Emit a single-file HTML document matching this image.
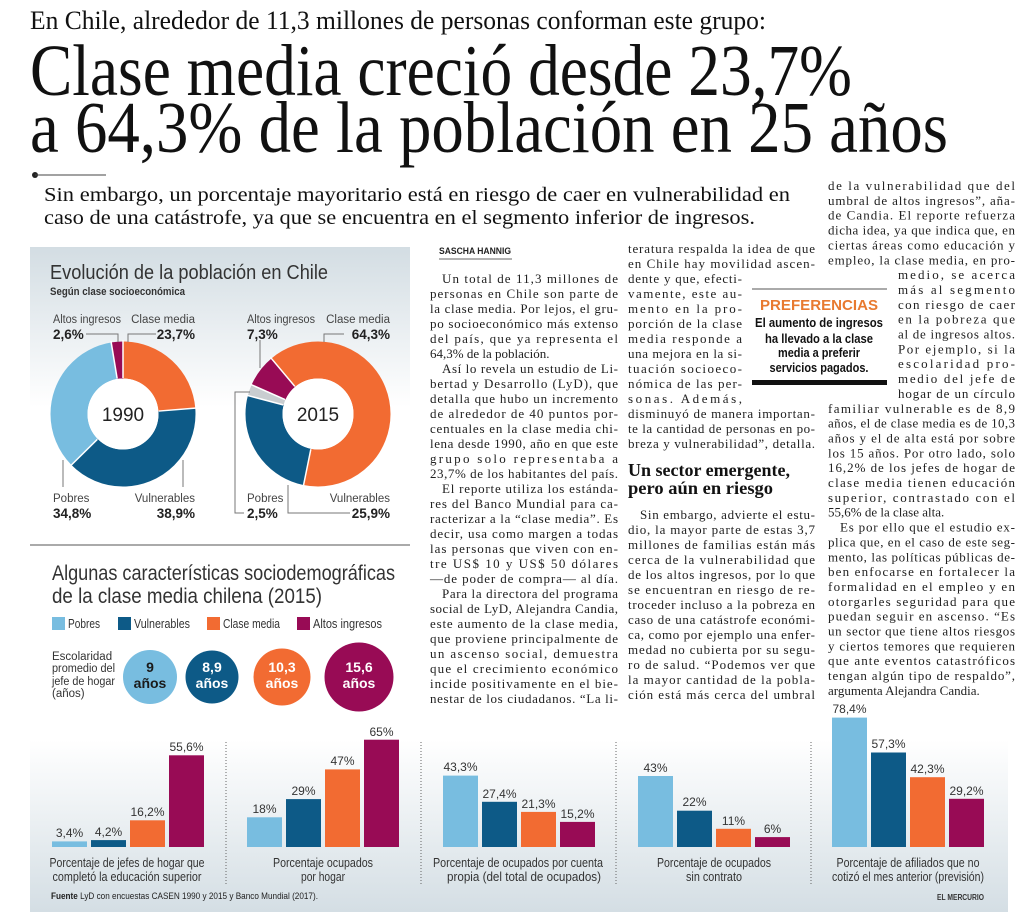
<!DOCTYPE html>
<html><head><meta charset="utf-8"><style>
body{margin:0;background:#fff}
svg{display:block}
.b{font-family:"Liberation Serif",serif;font-size:13px;fill:#1e1e1e}
.s{font-family:"Liberation Sans",sans-serif}
</style></head><body>
<svg width="1024" height="918" viewBox="0 0 1024 918" xmlns="http://www.w3.org/2000/svg">
<defs>
<linearGradient id="g1" x1="0" y1="0" x2="0" y2="1"><stop offset="0" stop-color="#d3dde3"/><stop offset="1" stop-color="#ffffff"/></linearGradient>
<linearGradient id="g2" x1="0" y1="0" x2="0" y2="1"><stop offset="0" stop-color="#ffffff"/><stop offset="1" stop-color="#d4dee4"/></linearGradient>
</defs>
<rect width="1024" height="918" fill="#fff"/>
<!-- Header -->
<g font-family="Liberation Serif, serif" fill="#111">
<text x="30" y="29" font-size="26" textLength="736" lengthAdjust="spacingAndGlyphs">En Chile, alrededor de 11,3 millones de personas conforman este grupo:</text>
<text x="30" y="95" font-size="73" textLength="822" lengthAdjust="spacingAndGlyphs">Clase media creció desde 23,7%</text>
<text x="30" y="152" font-size="73" textLength="918" lengthAdjust="spacingAndGlyphs">a 64,3% de la población en 25 años</text>
<text x="44" y="201" font-size="20" textLength="746" lengthAdjust="spacingAndGlyphs">Sin embargo, un porcentaje mayoritario está en riesgo de caer en vulnerabilidad en</text>
<text x="44" y="224" font-size="20" textLength="711" lengthAdjust="spacingAndGlyphs">caso de una catástrofe, ya que se encuentra en el segmento inferior de ingresos.</text>
</g>
<circle cx="35" cy="175" r="3" fill="#222"/>
<line x1="35" y1="175" x2="106" y2="175" stroke="#444" stroke-width="1"/>

<!-- Left infographic panel -->
<rect x="30" y="247" width="380" height="160" fill="url(#g1)"/>
<text class="s" x="50" y="279" font-size="20" fill="#333" textLength="278" lengthAdjust="spacingAndGlyphs">Evolución de la población en Chile</text>
<text class="s" x="50" y="295" font-size="11" font-weight="bold" fill="#333" textLength="135" lengthAdjust="spacingAndGlyphs">Según clase socioeconómica</text>

<!-- Donut 1990 -->
<g fill="none" stroke-width="37">
<circle cx="123" cy="414" r="54" stroke="#f26b32" stroke-dasharray="80.41 258.88" stroke-dashoffset="0" transform="rotate(-90 123 414)"/>
<circle cx="123" cy="414" r="54" stroke="#0d5a87" stroke-dasharray="131.98 207.31" stroke-dashoffset="-80.41" transform="rotate(-90 123 414)"/>
<circle cx="123" cy="414" r="54" stroke="#78bde0" stroke-dasharray="118.07 221.22" stroke-dashoffset="-212.39" transform="rotate(-90 123 414)"/>
<circle cx="123" cy="414" r="54" stroke="#980b55" stroke-dasharray="8.82 330.47" stroke-dashoffset="-330.46" transform="rotate(-90 123 414)"/>
</g>
<circle cx="123" cy="414" r="35.5" fill="#fff"/>
<g stroke="#fff" stroke-width="1.5">
<line x1="123" y1="378" x2="123" y2="340" transform="rotate(0 123 414)"/>
<line x1="123" y1="378" x2="123" y2="340" transform="rotate(85.32 123 414)"/>
<line x1="123" y1="378" x2="123" y2="340" transform="rotate(225.36 123 414)"/>
<line x1="123" y1="378" x2="123" y2="340" transform="rotate(350.64 123 414)"/>
</g>
<text class="s" x="123" y="421" font-size="19" fill="#222" text-anchor="middle">1990</text>

<!-- Donut 2015 -->
<g fill="none" stroke-width="37">
<circle cx="318" cy="414" r="54" stroke="#f26b32" stroke-dasharray="218.16 121.13" stroke-dashoffset="-301.59" transform="rotate(-90 318 414)"/>
<circle cx="318" cy="414" r="54" stroke="#0d5a87" stroke-dasharray="87.88 251.41" stroke-dashoffset="-180.47" transform="rotate(-90 318 414)"/>
<circle cx="318" cy="414" r="54" stroke="#c9cdd0" stroke-dasharray="8.48 330.81" stroke-dashoffset="-268.34" transform="rotate(-90 318 414)"/>
<circle cx="318" cy="414" r="54" stroke="#980b55" stroke-dasharray="24.77 314.52" stroke-dashoffset="-276.82" transform="rotate(-90 318 414)"/>
</g>
<circle cx="318" cy="414" r="35.5" fill="#fff"/>
<g stroke="#fff" stroke-width="1.5">
<line x1="318" y1="378" x2="318" y2="340" transform="rotate(320 318 414)"/>
<line x1="318" y1="378" x2="318" y2="340" transform="rotate(191.48 318 414)"/>
<line x1="318" y1="378" x2="318" y2="340" transform="rotate(284.72 318 414)"/>
<line x1="318" y1="378" x2="318" y2="340" transform="rotate(293.72 318 414)"/>
</g>
<text class="s" x="318" y="421" font-size="19" fill="#222" text-anchor="middle">2015</text>

<!-- leader lines -->
<g fill="none" stroke="#777" stroke-width="1">
<path d="M86,334 H118 V342"/>
<path d="M128,342 V334 H156"/>
<path d="M63,460 V487"/>
<path d="M183,460 V487"/>
<path d="M260,340 V368"/>
<path d="M324,342 V334 H344"/>
<path d="M250,392 H235 V513 H244"/>
<path d="M288,485 V513 H350"/>
</g>
<g class="s">
<text x="53" y="323" font-size="11.5" fill="#444" textLength="68" lengthAdjust="spacingAndGlyphs">Altos ingresos</text>
<text x="53" y="339" font-size="13.5" font-weight="bold" fill="#222">2,6%</text>
<text x="195" y="323" font-size="11.5" fill="#444" text-anchor="end">Clase media</text>
<text x="195" y="339" font-size="13.5" font-weight="bold" fill="#222" text-anchor="end">23,7%</text>
<text x="53" y="502" font-size="11.5" fill="#444">Pobres</text>
<text x="53" y="518" font-size="13.5" font-weight="bold" fill="#222">34,8%</text>
<text x="195" y="502" font-size="11.5" fill="#444" text-anchor="end">Vulnerables</text>
<text x="195" y="518" font-size="13.5" font-weight="bold" fill="#222" text-anchor="end">38,9%</text>
<text x="247" y="323" font-size="11.5" fill="#444" textLength="68" lengthAdjust="spacingAndGlyphs">Altos ingresos</text>
<text x="247" y="339" font-size="13.5" font-weight="bold" fill="#222">7,3%</text>
<text x="390" y="323" font-size="11.5" fill="#444" text-anchor="end">Clase media</text>
<text x="390" y="339" font-size="13.5" font-weight="bold" fill="#222" text-anchor="end">64,3%</text>
<text x="247" y="502" font-size="11.5" fill="#444">Pobres</text>
<text x="247" y="518" font-size="13.5" font-weight="bold" fill="#222">2,5%</text>
<text x="390" y="502" font-size="11.5" fill="#444" text-anchor="end">Vulnerables</text>
<text x="390" y="518" font-size="13.5" font-weight="bold" fill="#222" text-anchor="end">25,9%</text>
</g>

<line x1="30" y1="545" x2="410" y2="545" stroke="#555" stroke-width="1"/>

<!-- Second section -->
<g class="s" fill="#333">
<text x="52" y="580" font-size="21" textLength="343" lengthAdjust="spacingAndGlyphs">Algunas características sociodemográficas</text>
<text x="52" y="603" font-size="21" textLength="270" lengthAdjust="spacingAndGlyphs">de la clase media chilena (2015)</text>
</g>
<rect x="52" y="617" width="13" height="13" fill="#78bde0"/>
<rect x="118" y="617" width="13" height="13" fill="#0d5a87"/>
<rect x="207" y="617" width="13" height="13" fill="#f26b32"/>
<rect x="297" y="617" width="13" height="13" fill="#980b55"/>
<g class="s" font-size="12.5" fill="#333">
<text x="68" y="628" textLength="32" lengthAdjust="spacingAndGlyphs">Pobres</text>
<text x="134" y="628" textLength="56" lengthAdjust="spacingAndGlyphs">Vulnerables</text>
<text x="223" y="628" textLength="57" lengthAdjust="spacingAndGlyphs">Clase media</text>
<text x="313" y="628" textLength="69" lengthAdjust="spacingAndGlyphs">Altos ingresos</text>
</g>
<g class="s" font-size="11.5" fill="#333">
<text x="52" y="660">Escolaridad</text>
<text x="52" y="672" textLength="63" lengthAdjust="spacingAndGlyphs">promedio del</text>
<text x="52" y="685" textLength="63" lengthAdjust="spacingAndGlyphs">jefe de hogar</text>
<text x="52" y="697">(años)</text>
</g>
<circle cx="150" cy="677" r="27" fill="#78bde0"/>
<circle cx="212" cy="677" r="26.5" fill="#0d5a87"/>
<circle cx="282" cy="677" r="28.5" fill="#f26b32"/>
<circle cx="359" cy="677" r="34.5" fill="#980b55"/>
<g class="s" font-size="14" font-weight="bold" text-anchor="middle">
<text x="150" y="672" fill="#1a1a1a">9</text><text x="150" y="688" fill="#1a1a1a">años</text>
<text x="212" y="672" fill="#fff">8,9</text><text x="212" y="688" fill="#fff">años</text>
<text x="282" y="672" fill="#fff">10,3</text><text x="282" y="688" fill="#fff">años</text>
<text x="359" y="672" fill="#fff">15,6</text><text x="359" y="688" fill="#fff">años</text>
</g>

<!-- Bottom bar charts -->
<rect x="30" y="740" width="978" height="172" fill="url(#g2)"/>
<g stroke="#666" stroke-width="1" stroke-dasharray="1 2">
<line x1="226" y1="742" x2="226" y2="884"/>
<line x1="421" y1="742" x2="421" y2="884"/>
<line x1="616" y1="742" x2="616" y2="884"/>
<line x1="811" y1="742" x2="811" y2="884"/>
</g>
<g>
<rect x="52" y="841.4" width="35" height="5.6" fill="#78bde0"/>
<rect x="91" y="840.1" width="35" height="6.9" fill="#0d5a87"/>
<rect x="130" y="820.3" width="35" height="26.7" fill="#f26b32"/>
<rect x="169" y="755.3" width="35" height="91.7" fill="#980b55"/>
<rect x="247" y="817.3" width="35" height="29.7" fill="#78bde0"/>
<rect x="286" y="799.1" width="35" height="47.9" fill="#0d5a87"/>
<rect x="325" y="769.4" width="35" height="77.6" fill="#f26b32"/>
<rect x="364" y="739.7" width="35" height="107.3" fill="#980b55"/>
<rect x="443" y="775.6" width="35" height="71.4" fill="#78bde0"/>
<rect x="482" y="801.8" width="35" height="45.2" fill="#0d5a87"/>
<rect x="521" y="811.9" width="35" height="35.1" fill="#f26b32"/>
<rect x="560" y="821.9" width="35" height="25.1" fill="#980b55"/>
<rect x="638" y="776" width="35" height="71" fill="#78bde0"/>
<rect x="677" y="810.7" width="35" height="36.3" fill="#0d5a87"/>
<rect x="716" y="828.8" width="35" height="18.2" fill="#f26b32"/>
<rect x="755" y="837.1" width="35" height="9.9" fill="#980b55"/>
<rect x="832" y="717.6" width="35" height="129.4" fill="#78bde0"/>
<rect x="871" y="752.5" width="35" height="94.5" fill="#0d5a87"/>
<rect x="910" y="777.2" width="35" height="69.8" fill="#f26b32"/>
<rect x="949" y="798.8" width="35" height="48.2" fill="#980b55"/>
</g>
<g class="s" font-size="12" fill="#333" text-anchor="middle">
<text x="69.5" y="837">3,4%</text><text x="108.5" y="836">4,2%</text><text x="147.5" y="816">16,2%</text><text x="186.5" y="751">55,6%</text>
<text x="264.5" y="813">18%</text><text x="303.5" y="795">29%</text><text x="342.5" y="765">47%</text><text x="381.5" y="736">65%</text>
<text x="460.5" y="771">43,3%</text><text x="499.5" y="798">27,4%</text><text x="538.5" y="808">21,3%</text><text x="577.5" y="818">15,2%</text>
<text x="655.5" y="772">43%</text><text x="694.5" y="806">22%</text><text x="733.5" y="825">11%</text><text x="772.5" y="833">6%</text>
<text x="849.5" y="713">78,4%</text><text x="888.5" y="748">57,3%</text><text x="927.5" y="773">42,3%</text><text x="966.5" y="795">29,2%</text>
</g>
<g class="s" font-size="12.5" fill="#333" text-anchor="middle">
<text x="127" y="867" textLength="155" lengthAdjust="spacingAndGlyphs">Porcentaje de jefes de hogar que</text>
<text x="127" y="881" textLength="149" lengthAdjust="spacingAndGlyphs">completó la educación superior</text>
<text x="323" y="867" textLength="100" lengthAdjust="spacingAndGlyphs">Porcentaje ocupados</text>
<text x="323" y="881" textLength="44" lengthAdjust="spacingAndGlyphs">por hogar</text>
<text x="518" y="867" textLength="170" lengthAdjust="spacingAndGlyphs">Porcentaje de ocupados por cuenta</text>
<text x="524" y="881" textLength="154" lengthAdjust="spacingAndGlyphs">propia (del total de ocupados)</text>
<text x="714" y="867" textLength="114" lengthAdjust="spacingAndGlyphs">Porcentaje de ocupados</text>
<text x="714" y="881" textLength="56" lengthAdjust="spacingAndGlyphs">sin contrato</text>
<text x="908" y="867" textLength="143" lengthAdjust="spacingAndGlyphs">Porcentaje de afiliados que no</text>
<text x="908" y="881" textLength="152" lengthAdjust="spacingAndGlyphs">cotizó el mes anterior (previsión)</text>
</g>
<text class="s" x="51" y="899" font-size="9.5" fill="#222" textLength="267" lengthAdjust="spacingAndGlyphs"><tspan font-weight="bold">Fuente</tspan> LyD con encuestas CASEN 1990 y 2015 y Banco Mundial (2017).</text>
<text class="s" x="984" y="900" font-size="8" font-weight="bold" fill="#333" text-anchor="end" textLength="47" lengthAdjust="spacingAndGlyphs">EL MERCURIO</text>

<!-- Byline -->
<text class="s" x="439" y="254" font-size="9" font-weight="bold" fill="#222" textLength="72" lengthAdjust="spacingAndGlyphs">SASCHA HANNIG</text>
<line x1="439" y1="259" x2="512" y2="259" stroke="#666" stroke-width="1"/>

<!-- Column 1 -->
<g class="b" lengthAdjust="spacing">
<text x="442" y="283" textLength="176">Un total de 11,3 millones de</text>
<text x="430" y="298" textLength="188">personas en Chile son parte de</text>
<text x="430" y="313" textLength="188">la clase media. Por lejos, el gru-</text>
<text x="430" y="328" textLength="188">po socioeconómico más extenso</text>
<text x="430" y="343" textLength="188">del país, que ya representa el</text>
<text x="430" y="358">64,3% de la población.</text>
<text x="442" y="373" textLength="176">Así lo revela un estudio de Li-</text>
<text x="430" y="388" textLength="188">bertad y Desarrollo (LyD), que</text>
<text x="430" y="403" textLength="188">detalla que hubo un incremento</text>
<text x="430" y="418" textLength="188">de alrededor de 40 puntos por-</text>
<text x="430" y="433" textLength="188">centuales en la clase media chi-</text>
<text x="430" y="448" textLength="188">lena desde 1990, año en que este</text>
<text x="430" y="463" textLength="188">grupo solo representaba a</text>
<text x="430" y="478" textLength="188">23,7% de los habitantes del país.</text>
<text x="442" y="493" textLength="176">El reporte utiliza los estánda-</text>
<text x="430" y="508" textLength="188">res del Banco Mundial para ca-</text>
<text x="430" y="523" textLength="188">racterizar a la “clase media”. Es</text>
<text x="430" y="538" textLength="188">decir, usa como margen a todas</text>
<text x="430" y="553" textLength="188">las personas que viven con en-</text>
<text x="430" y="568" textLength="188">tre US$ 10 y US$ 50 dólares</text>
<text x="430" y="583" textLength="188">—de poder de compra— al día.</text>
<text x="442" y="598" textLength="176">Para la directora del programa</text>
<text x="430" y="613" textLength="188">social de LyD, Alejandra Candia,</text>
<text x="430" y="628" textLength="188">este aumento de la clase media,</text>
<text x="430" y="643" textLength="188">que proviene principalmente de</text>
<text x="430" y="658" textLength="188">un ascenso social, demuestra</text>
<text x="430" y="673" textLength="188">que el crecimiento económico</text>
<text x="430" y="688" textLength="188">incide positivamente en el bie-</text>
<text x="430" y="703" textLength="188">nestar de los ciudadanos. “La li-</text>
</g>

<!-- Column 2 -->
<g class="b" lengthAdjust="spacing">
<text x="628" y="253" textLength="187">teratura respalda la idea de que</text>
<text x="628" y="268" textLength="187">en Chile hay movilidad ascen-</text>
<text x="628" y="283" textLength="114">dente y que, efecti-</text>
<text x="628" y="298" textLength="114">vamente, este au-</text>
<text x="628" y="313" textLength="114">mento en la pro-</text>
<text x="628" y="328" textLength="114">porción de la clase</text>
<text x="628" y="343" textLength="114">media responde a</text>
<text x="628" y="358" textLength="114">una mejora en la si-</text>
<text x="628" y="373" textLength="114">tuación socioeco-</text>
<text x="628" y="388" textLength="114">nómica de las per-</text>
<text x="628" y="403" textLength="114">sonas. Además,</text>
<text x="628" y="418" textLength="187">disminuyó de manera importan-</text>
<text x="628" y="433" textLength="187">te la cantidad de personas en po-</text>
<text x="628" y="448" textLength="187">breza y vulnerabilidad”, detalla.</text>
</g>
<g font-family="Liberation Serif, serif" font-weight="bold" font-size="18" fill="#111">
<text x="628" y="476" textLength="162" lengthAdjust="spacingAndGlyphs">Un sector emergente,</text>
<text x="628" y="494" textLength="145" lengthAdjust="spacingAndGlyphs">pero aún en riesgo</text>
</g>
<g class="b" lengthAdjust="spacing">
<text x="640" y="519" textLength="175">Sin embargo, advierte el estu-</text>
<text x="628" y="534" textLength="187">dio, la mayor parte de estas 3,7</text>
<text x="628" y="549" textLength="187">millones de familias están más</text>
<text x="628" y="564" textLength="187">cerca de la vulnerabilidad que</text>
<text x="628" y="579" textLength="187">de los altos ingresos, por lo que</text>
<text x="628" y="594" textLength="187">se encuentran en riesgo de re-</text>
<text x="628" y="609" textLength="187">troceder incluso a la pobreza en</text>
<text x="628" y="624" textLength="187">caso de una catástrofe económi-</text>
<text x="628" y="639" textLength="187">ca, como por ejemplo una enfer-</text>
<text x="628" y="654" textLength="187">medad no cubierta por su segu-</text>
<text x="628" y="669" textLength="187">ro de salud. “Podemos ver que</text>
<text x="628" y="684" textLength="187">la mayor cantidad de la pobla-</text>
<text x="628" y="699" textLength="187">ción está más cerca del umbral</text>
</g>

<!-- PREFERENCIAS box -->
<line x1="752" y1="289" x2="887" y2="289" stroke="#555" stroke-width="1"/>
<text class="s" x="819" y="310" font-size="15" font-weight="bold" fill="#e87a30" text-anchor="middle" textLength="118" lengthAdjust="spacingAndGlyphs">PREFERENCIAS</text>
<g class="s" font-size="12.5" font-weight="bold" fill="#111" text-anchor="middle">
<text x="819" y="327" textLength="128" lengthAdjust="spacingAndGlyphs">El aumento de ingresos</text>
<text x="819" y="343" textLength="108" lengthAdjust="spacingAndGlyphs">ha llevado a la clase</text>
<text x="819" y="357" textLength="82" lengthAdjust="spacingAndGlyphs">media a preferir</text>
<text x="819" y="372" textLength="99" lengthAdjust="spacingAndGlyphs">servicios pagados.</text>
</g>
<rect x="752" y="380" width="135" height="5" fill="#111"/>

<!-- Column 3 -->
<g class="b" lengthAdjust="spacing">
<text x="828" y="190" textLength="187">de la vulnerabilidad que del</text>
<text x="828" y="204.85" textLength="187">umbral de altos ingresos”, aña-</text>
<text x="828" y="219.7" textLength="187">de Candia. El reporte refuerza</text>
<text x="828" y="234.55" textLength="187">dicha idea, ya que indica que, en</text>
<text x="828" y="249.4" textLength="187">ciertas áreas como educación y</text>
<text x="828" y="264.25" textLength="187">empleo, la clase media, en pro-</text>
<text x="898" y="279.1" textLength="117">medio, se acerca</text>
<text x="898" y="293.95" textLength="117">más al segmento</text>
<text x="898" y="308.8" textLength="117">con riesgo de caer</text>
<text x="898" y="323.65" textLength="117">en la pobreza que</text>
<text x="898" y="338.5" textLength="117">al de ingresos altos.</text>
<text x="898" y="353.35" textLength="117">Por ejemplo, si la</text>
<text x="898" y="368.2" textLength="117">escolaridad pro-</text>
<text x="898" y="383.05" textLength="117">medio del jefe de</text>
<text x="898" y="397.9" textLength="117">hogar de un círculo</text>
<text x="828" y="412.75" textLength="187">familiar vulnerable es de 8,9</text>
<text x="828" y="427.6" textLength="187">años, el de clase media es de 10,3</text>
<text x="828" y="442.45" textLength="187">años y el de alta está por sobre</text>
<text x="828" y="457.3" textLength="187">los 15 años. Por otro lado, solo</text>
<text x="828" y="472.15" textLength="187">16,2% de los jefes de hogar de</text>
<text x="828" y="487" textLength="187">clase media tienen educación</text>
<text x="828" y="501.85" textLength="187">superior, contrastado con el</text>
<text x="828" y="516.7">55,6% de la clase alta.</text>
<text x="840" y="531.55" textLength="175">Es por ello que el estudio ex-</text>
<text x="828" y="546.4" textLength="187">plica que, en el caso de este seg-</text>
<text x="828" y="561.25" textLength="187">mento, las políticas públicas de-</text>
<text x="828" y="576.1" textLength="187">ben enfocarse en fortalecer la</text>
<text x="828" y="590.95" textLength="187">formalidad en el empleo y en</text>
<text x="828" y="605.8" textLength="187">otorgarles seguridad para que</text>
<text x="828" y="620.65" textLength="187">puedan seguir en ascenso. “Es</text>
<text x="828" y="635.5" textLength="187">un sector que tiene altos riesgos</text>
<text x="828" y="650.35" textLength="187">y ciertos temores que requieren</text>
<text x="828" y="665.2" textLength="187">que ante eventos catastróficos</text>
<text x="828" y="680.05" textLength="187">tengan algún tipo de respaldo”,</text>
<text x="828" y="694.9">argumenta Alejandra Candia.</text>
</g>
</svg>
</body></html>
